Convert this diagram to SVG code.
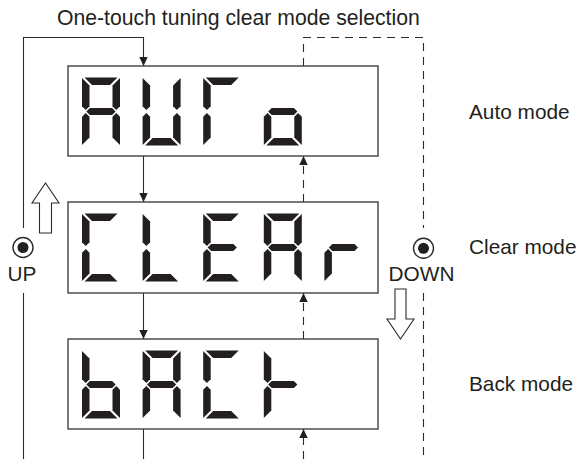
<svg xmlns="http://www.w3.org/2000/svg" width="580" height="459" viewBox="0 0 580 459">
<style>
.t{font-family:"Liberation Sans",Arial,sans-serif;font-size:20.8px;fill:#231f20}
.box{fill:#fff;stroke:#404040;stroke-width:1.4}
.seg{fill:#231f20}
.ln{fill:none;stroke:#2b2b2b;stroke-width:1.1}
.dash{fill:none;stroke:#2b2b2b;stroke-width:1.1;stroke-dasharray:8 6}
.hollow{fill:#fff;stroke:#2b2b2b;stroke-width:1.1;stroke-linejoin:miter}
.ring{fill:#fff;stroke:#2b2b2b;stroke-width:1.4}
.dot{fill:#231f20}
</style>
<defs>
<marker id="ah" markerUnits="userSpaceOnUse" markerWidth="10" markerHeight="10" refX="9" refY="4.2" orient="auto">
<path d="M0,0 L9,4.2 L0,8.4 z" fill="#231f20" stroke="none"/>
</marker>
<polygon id="sa" class="seg" points="2.5,0 35.5,0 28,7.5 10,7.5"/>
<polygon id="sb" class="seg" points="38,0.5 38,28.75 34.25,32.5 30.5,28.75 30.5,8"/>
<polygon id="sc" class="seg" points="38,39.25 38,67.5 30.5,60 30.5,39.25 34.25,35.5"/>
<polygon id="sd" class="seg" points="10,60.5 28,60.5 35.5,68 2.5,68"/>
<polygon id="se" class="seg" points="0,39.25 3.75,35.5 7.5,39.25 7.5,60 0,67.5"/>
<polygon id="sf" class="seg" points="0,0.5 7.5,8 7.5,28.75 3.75,32.5 0,28.75"/>
<polygon id="sg" class="seg" points="4.4,34 7.9,30.5 30.1,30.5 33.6,34 30.1,37.5 7.9,37.5"/>
<g id="dA"><use href="#sa"/><use href="#sb"/><use href="#sc"/><use href="#se"/><use href="#sf"/><use href="#sg"/></g>
<g id="dU"><use href="#sb"/><use href="#sc"/><use href="#sd"/><use href="#se"/><use href="#sf"/></g>
<g id="dT"><use href="#sa"/><use href="#se"/><use href="#sf"/></g>
<g id="do"><use href="#sc"/><use href="#sd"/><use href="#se"/><use href="#sg"/></g>
<g id="dC"><use href="#sa"/><use href="#sd"/><use href="#se"/><use href="#sf"/></g>
<g id="dL"><use href="#sd"/><use href="#se"/><use href="#sf"/></g>
<g id="dE"><use href="#sa"/><use href="#sd"/><use href="#se"/><use href="#sf"/><use href="#sg"/></g>
<g id="dr"><use href="#se"/><use href="#sg"/></g>
<g id="db"><use href="#sc"/><use href="#sd"/><use href="#se"/><use href="#sf"/><use href="#sg"/></g>
<g id="dk"><use href="#se"/><use href="#sf"/><use href="#sg"/></g>
</defs>
<rect width="580" height="459" fill="#fff"/>
<text class="t" x="57" y="25" style="font-size:21.2px">One-touch tuning clear mode selection</text>
<g id="connectors">
<path class="ln" d="M23.5,228 V37.5 H143.5 V66" marker-end="url(#ah)"/>
<path class="ln" d="M23.5,293 V459"/>
<path class="ln" d="M143.5,156 V202" marker-end="url(#ah)"/>
<path class="ln" d="M143.5,293 V339" marker-end="url(#ah)"/>
<path class="ln" d="M143.5,429 V459"/>
<path class="dash" d="M303.5,66 V37.5 H423.5 V228"/>
<path class="dash" d="M423.5,293 V459"/>
<path class="dash" d="M303.5,202 V156" marker-end="url(#ah)"/>
<path class="dash" d="M303.5,339 V293" marker-end="url(#ah)"/>
<path class="dash" d="M303.5,459 V429" marker-end="url(#ah)"/>
</g>
<g id="auto-mode">
<rect class="box" x="68" y="66" width="310" height="90"/>
<use href="#dA" x="82" y="77.5"/>
<use href="#dU" x="142.6" y="77.5"/>
<use href="#dT" x="203.2" y="77.5"/>
<use href="#do" x="263.8" y="77.5"/>
<text class="t" x="469" y="119">Auto mode</text>
</g>
<g id="clear-mode">
<rect class="box" x="68" y="202" width="310" height="91"/>
<use href="#dC" x="82" y="213.5"/>
<use href="#dL" x="142.6" y="213.5"/>
<use href="#dE" x="203.2" y="213.5"/>
<use href="#dA" x="263.8" y="213.5"/>
<use href="#dr" x="324.4" y="213.5"/>
<text class="t" x="469" y="254">Clear mode</text>
</g>
<g id="back-mode">
<rect class="box" x="68" y="339" width="310" height="90"/>
<use href="#db" x="82" y="350.5"/>
<use href="#dA" x="142.6" y="350.5"/>
<use href="#dC" x="203.2" y="350.5"/>
<use href="#dk" x="263.8" y="350.5"/>
<text class="t" x="469" y="390.5">Back mode</text>
</g>
<g id="up-button">
<polygon class="hollow" points="39.5,233 39.5,203 32,203 45.5,183 59,203 51.5,203 51.5,233"/>
<circle class="ring" cx="23" cy="247.5" r="10"/>
<circle class="dot" cx="23" cy="247.5" r="5.5"/>
<text class="t" x="22" y="281" text-anchor="middle">UP</text>
</g>
<g id="down-button">
<polygon class="hollow" points="395,289 406,289 406,319 414,319 400.5,339 387,319 395,319"/>
<circle class="ring" cx="423.5" cy="248.3" r="10"/>
<circle class="dot" cx="423.5" cy="248.3" r="5.5"/>
<text class="t" x="421.5" y="281" text-anchor="middle">DOWN</text>
</g>
</svg>
